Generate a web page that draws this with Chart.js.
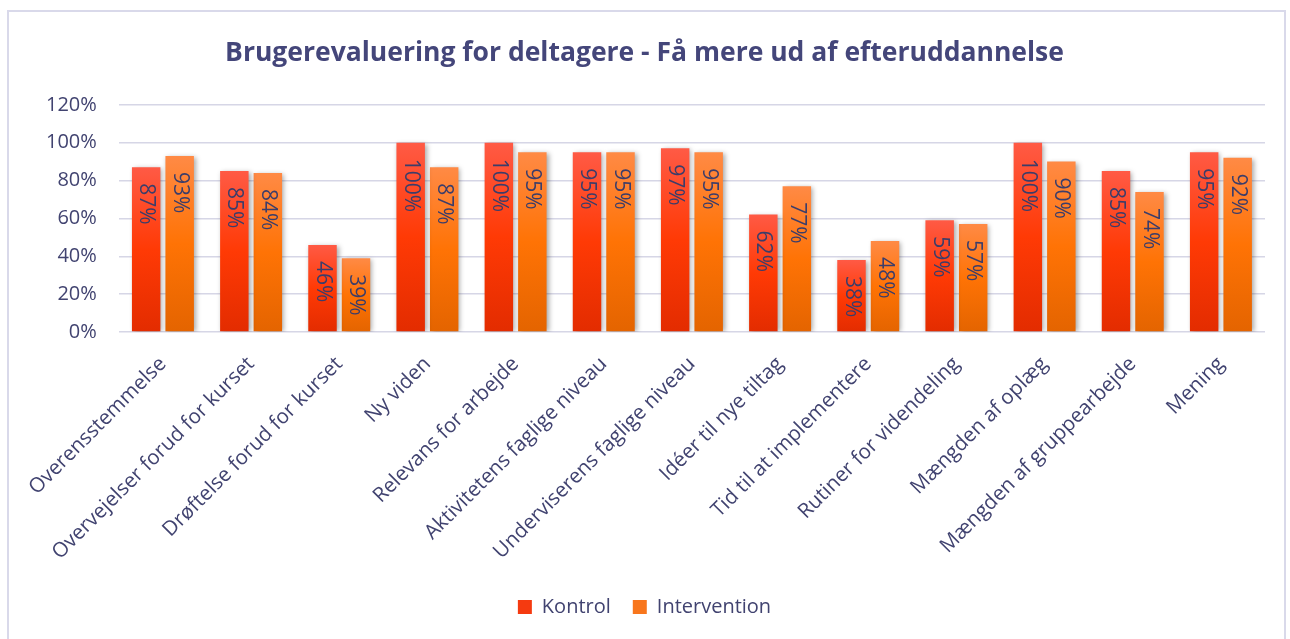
<!DOCTYPE html>
<html>
<head>
<meta charset="utf-8">
<script src="https://cdn.jsdelivr.net/npm/chart.js@4"></script>
<style>
  body { margin: 0; background: #fff; }
  #frame { position: absolute; left: 7px; top: 10px; width: 1275px; height: 640px; border: 2px solid #d9d9ea; }
  #wrap { position: absolute; left: 0; top: 0; width: 1290px; height: 639px; }
</style>
</head>
<body>
<div id="frame"></div>
<div id="wrap"><canvas id="myChart"></canvas></div>
<script>
const categories = [
  "Overensstemmelse", "Overvejelser forud for kurset", "Drøftelse forud for kurset",
  "Ny viden", "Relevans for arbejde", "Aktivitetens faglige niveau",
  "Underviserens faglige niveau", "Idéer til nye tiltag", "Tid til at implementere",
  "Rutiner for videndeling", "Mængden af oplæg", "Mængden af gruppearbejde", "Mening"
]
const kontrol = [87, 85, 46, 100, 100, 95, 97, 62, 38, 59, 100, 85, 95]
const intervention = [93, 84, 39, 87, 95, 95, 95, 77, 48, 57, 90, 74, 92]
const yTicks = [0, 20, 40, 60, 80, 100, 120]

const textColor = "#414370"
const fontFamily = "'Open Sans', sans-serif"

// gradient per bar: light at its own top, deeper lower down
function barGradient(stops) {
    return (context) => {
        const chart = context.chart
        const scale = chart.scales && chart.scales.y
        if (!chart.chartArea || !scale || context.type !== "data") return stops[1]
        const top = scale.getPixelForValue(context.raw)
        const bottom = scale.getPixelForValue(0)
        if (!isFinite(top) || bottom - top < 1) return stops[1]
        const g = chart.ctx.createLinearGradient(0, top, 0, bottom)
        g.addColorStop(0, stops[0])
        g.addColorStop(0.5, stops[1])
        g.addColorStop(1, stops[2])
        return g
    }
}

const shadowPlugin = {
    id: "barShadow",
    beforeDatasetsDraw(chart) {
        const ctx = chart.ctx
        ctx.save()
        ctx.shadowColor = "rgba(0,0,0,0.35)"
        ctx.shadowBlur = 5
        ctx.shadowOffsetX = 2
        ctx.shadowOffsetY = 1
    },
    afterDatasetsDraw(chart) {
        chart.ctx.restore()
    }
}

const valueLabels = {
    id: "valueLabels",
    afterDatasetsDraw(chart) {
        const ctx = chart.ctx
        ctx.save()
        ctx.shadowColor = "transparent"
        ctx.font = "21px " + fontFamily
        ctx.fillStyle = "#3b3d6a"
        ctx.textAlign = "left"
        ctx.textBaseline = "middle"
        chart.data.datasets.forEach((ds, i) => {
            chart.getDatasetMeta(i).data.forEach((bar, j) => {
                ctx.save()
                ctx.translate(bar.x, bar.y + 16)
                ctx.rotate(Math.PI / 2)
                ctx.fillText(ds.data[j] + "%", 0, 0)
                ctx.restore()
            })
        })
        ctx.restore()
    }
}

const chartRef = document.getElementById("myChart").getContext("2d")
new Chart(chartRef, {
    type: "bar",
    data: {
        labels: categories,
        datasets: [
            {
                label: "Kontrol",
                data: kontrol,
                backgroundColor: barGradient(["#ff5a45", "#ff3a05", "#e32c00"]),
                legendColor: "#f53a10"
            },
            {
                label: "Intervention",
                data: intervention,
                backgroundColor: barGradient(["#ff8a45", "#ff7305", "#e46400"]),
                legendColor: "#f8761c"
            }
        ]
    },
    options: {
        responsive: true,
        maintainAspectRatio: false,
        animation: false,
        categoryPercentage: 0.76,
        barPercentage: 0.85,
        layout: { padding: { left: 24, right: 25, top: 32, bottom: 12 } },
        plugins: {
            title: {
                display: true,
                text: "Brugerevaluering for deltagere - Få mere ud af efteruddannelse",
                color: "#44467a",
                font: { family: fontFamily, size: 26.5, weight: "bold" },
                padding: { top: 6, bottom: 35 }
            },
            legend: {
                position: "bottom",
                labels: {
                    color: textColor,
                    font: { family: fontFamily, size: 20 },
                    boxWidth: 14,
                    boxHeight: 14,
                    padding: 22,
                    generateLabels(chart) {
                        return chart.data.datasets.map((ds, i) => ({
                            text: ds.label,
                            fillStyle: ds.legendColor,
                            strokeStyle: ds.legendColor,
                            lineWidth: 0,
                            fontColor: textColor,
                            datasetIndex: i
                        }))
                    }
                }
            },
            tooltip: { enabled: false }
        },
        scales: {
            x: {
                grid: { display: false },
                border: { display: false },
                afterFit(axis) { axis.height = 243 },
                ticks: {
                    color: textColor,
                    font: { family: fontFamily, size: 20.5 },
                    maxRotation: 45,
                    minRotation: 45,
                    autoSkip: false,
                    padding: 12
                }
            },
            y: {
                min: 0,
                max: 120,
                afterBuildTicks(axis) {
                    axis.ticks = yTicks.map(v => ({ value: v }))
                },
                grid: { color: "#d6d6e6", lineWidth: 1.5, drawTicks: false },
                border: { display: false },
                ticks: {
                    color: textColor,
                    font: { family: fontFamily, size: 20 },
                    padding: 22,
                    callback: (v) => v + "%"
                }
            }
        }
    },
    plugins: [shadowPlugin, valueLabels]
})
</script>
</body>
</html>
